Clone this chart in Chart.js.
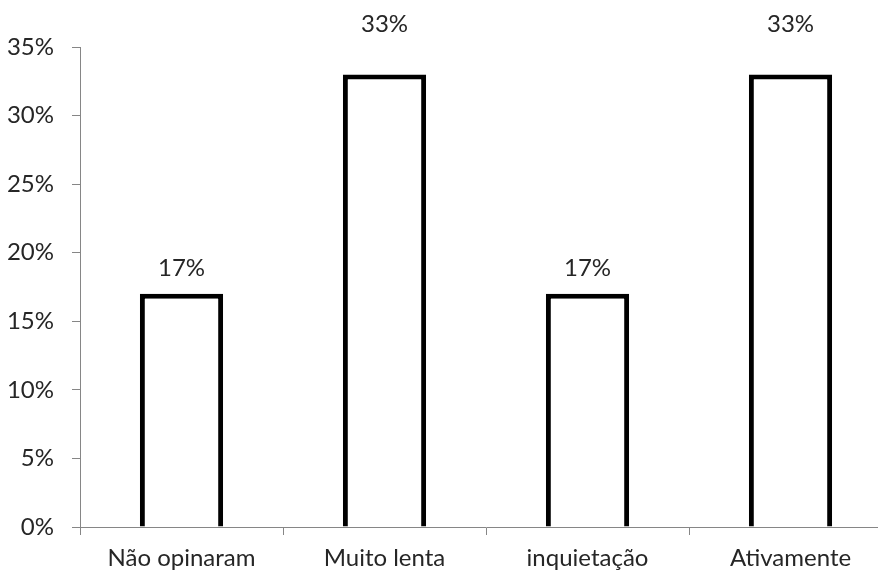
<!DOCTYPE html>
<html>
<head>
<meta charset="utf-8">
<script src="https://cdn.jsdelivr.net/npm/chart.js@4.4.1/dist/chart.umd.min.js"></script>
<style>
  html, body { margin: 0; padding: 0; background: #fff; overflow: hidden; }
  #wrap { width: 900px; height: 573px; }
</style>
</head>
<body>
<div id="wrap"><canvas id="c" width="900" height="573"></canvas></div>
<script>
const categories = ['Não opinaram', 'Muito lenta', 'inquietação', 'Ativamente'];
const percentages = [17, 33, 17, 33];
const yTicks = [0, 5, 10, 15, 20, 25, 30, 35];

const FONT = 'Lato, "Open Sans", sans-serif';
const TEXT = '#262626';
const AXIS = '#868686';

// Value labels printed above each bar
const valueLabels = {
  id: 'valueLabels',
  afterDatasetsDraw(chart, args, opts) {
    const ctx = chart.ctx;
    const meta = chart.getDatasetMeta(0);
    ctx.save();
    ctx.font = '24px ' + FONT;
    ctx.fillStyle = TEXT;
    ctx.textAlign = 'center';
    ctx.textBaseline = 'bottom';
    meta.data.forEach((bar, i) => {
      const v = chart.data.datasets[0].data[i];
      ctx.fillText(v + '%', bar.x, bar.y - opts.gaps[i]);
    });
    ctx.restore();
  }
};

new Chart(document.getElementById('c'), {
  type: 'bar',
  data: {
    labels: categories,
    datasets: [{
      data: percentages,
      backgroundColor: '#ffffff',
      borderColor: '#000000',
      borderWidth: 5,
      borderSkipped: 'bottom',
      barPercentage: 0.41,
      categoryPercentage: 1.0
    }]
  },
  options: {
    responsive: false,
    animation: false,
    layout: { padding: { top: 47, right: 8, left: 0, bottom: 0 } },
    plugins: {
      legend: { display: false },
      tooltip: { enabled: false },
      valueLabels: { gaps: [14, 38, 14, 38] }
    },
    scales: {
      x: {
        offset: true,
        grid: { display: true, offset: true, drawOnChartArea: false, drawTicks: true, tickLength: 8, color: AXIS, lineWidth: 1 },
        border: { display: true, color: AXIS, width: 1 },
        ticks: { color: TEXT, font: { family: FONT, size: 24 }, padding: 9, maxRotation: 0 },
        afterFit(scale) { scale.height = 46; }
      },
      y: {
        min: 0,
        max: 35,
        afterBuildTicks(scale) { scale.ticks = yTicks.map(v => ({ value: v })); },
        grid: { display: true, drawOnChartArea: false, drawTicks: true, tickLength: 8, color: AXIS, lineWidth: 1 },
        border: { display: true, color: AXIS, width: 1 },
        ticks: { color: TEXT, font: { family: FONT, size: 24 }, padding: 18, callback: v => v + '%' },
        afterFit(scale) { scale.width = 80; }
      }
    }
  },
  plugins: [valueLabels]
});
</script>
</body>
</html>
